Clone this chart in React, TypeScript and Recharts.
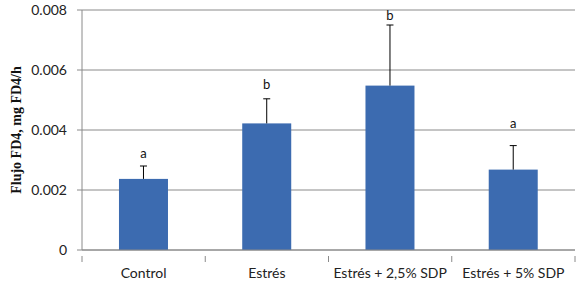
import React from "react";
import { Bar, BarChart, CartesianGrid, XAxis, YAxis } from "recharts";

// treatment groups and measured flux (mean, upper SD), plus significance letters
const categories = ["Control", "Estrés", "Estrés + 2,5% SDP", "Estrés + 5% SDP"];
const flujo = [0.00237, 0.00422, 0.00548, 0.00268];
const sd = [0.00043, 0.00082, 0.00202, 0.0008];
const letters = ["a", "b", "b", "a"];
const letterAt = [0.00324, 0.00553, 0.00784, 0.00423];
const yTicks = [0, 0.002, 0.004, 0.006, 0.008];

const data = categories.map((name, i) => ({
  name,
  flujo: flujo[i],
  sd: sd[i],
  letter: letters[i],
  letterAt: letterAt[i],
}));

const BLUE = "#3c6bb0";
const GREY = "#8a8a8a";
const FONT = "Lato, 'Open Sans', sans-serif";

// bar + one-sided error bar + letter, scaled from the bar's own pixel height
function BarWithError(props: any) {
  const { x, y, width, height, payload } = props;
  const base = y + height;
  const ppu = payload.flujo ? height / payload.flujo : 0;
  const cx = x + width / 2;
  const yErr = y - payload.sd * ppu;
  const yLab = base - payload.letterAt * ppu;
  return (
    <g>
      <rect x={x} y={y} width={width} height={height} fill={BLUE} />
      <line x1={cx} x2={cx} y1={y} y2={yErr} stroke="#000" strokeWidth={1} />
      <line x1={cx - 3.5} x2={cx + 3.5} y1={yErr} y2={yErr} stroke="#000" strokeWidth={1} />
      <text x={cx} y={yLab} textAnchor="middle" dominantBaseline="central" fontSize={13} fontFamily={FONT} fill="#111">
        {payload.letter}
      </text>
    </g>
  );
}

function CategoryTick(props: any) {
  const { x, y, payload, index } = props;
  const half = payload && payload.offset ? payload.offset : 61.5;
  const axisY = y - 12;
  return (
    <g>
      <line x1={x - half} x2={x - half} y1={axisY} y2={axisY + 6} stroke={GREY} />
      {index === categories.length - 1 && (
        <line x1={x + half} x2={x + half} y1={axisY} y2={axisY + 6} stroke={GREY} />
      )}
      <text x={x} y={y} dy={10} textAnchor="middle" fontSize={14} fontFamily={FONT} fill="#222">
        {payload.value}
      </text>
    </g>
  );
}

export default function App() {
  return (
    <div style={{ position: "absolute", left: 0, top: 0, background: "#fff" }}>
      <BarChart
        width={580}
        height={286}
        data={data}
        margin={{ top: 10, right: 5, bottom: 0, left: 0 }}
        barCategoryGap="30%"
      >
        <CartesianGrid vertical={false} stroke={GREY} strokeWidth={1} />
        <XAxis
          dataKey="name"
          height={36}
          axisLine={{ stroke: GREY }}
          tickLine={false}
          tickMargin={12}
          tick={<CategoryTick />}
          interval={0}
        />
        <YAxis
          width={82}
          domain={[0, 0.008]}
          ticks={yTicks}
          tickFormatter={(v: number) => (v === 0 ? "0" : v.toFixed(3))}
          axisLine={{ stroke: GREY }}
          tickLine={{ stroke: GREY }}
          tickSize={5}
          tickMargin={10}
          tick={{ fontSize: 14, fontFamily: FONT, fill: "#222" }}
          label={{
            value: "Flujo FD4, mg FD4/h",
            angle: -90,
            position: "insideLeft",
            offset: 16,
            style: {
              textAnchor: "middle",
              fontFamily: "'Liberation Serif', 'Times New Roman', serif",
              fontWeight: "bold",
              fontSize: 14,
              fill: "#111",
            },
          }}
        />
        <Bar dataKey="flujo" shape={<BarWithError />} isAnimationActive={false} />
      </BarChart>
    </div>
  );
}
